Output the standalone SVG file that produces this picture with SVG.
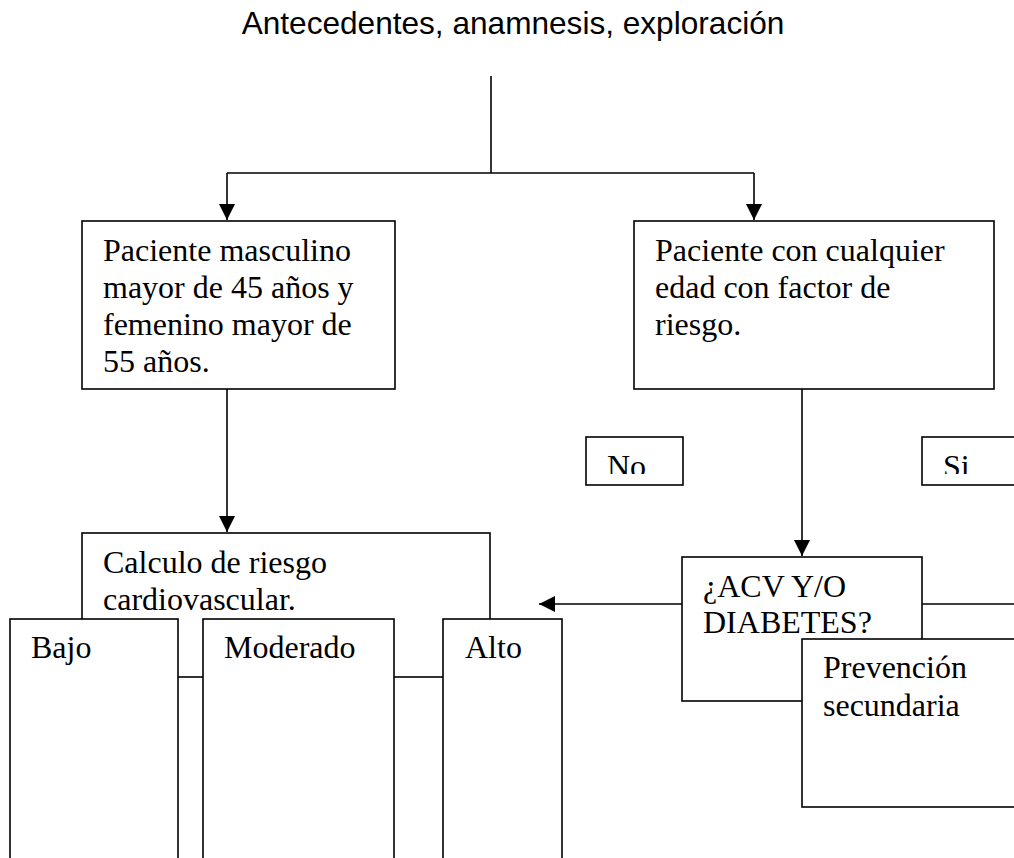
<svg xmlns="http://www.w3.org/2000/svg" width="1014" height="858" viewBox="0 0 1014 858">
  <style>
    .box { fill: #ffffff; stroke: #000000; stroke-width: 1.6; }
    .line { fill: none; stroke: #000000; stroke-width: 1.6; }
    .t { font-family: "Liberation Serif", "Times New Roman", serif; font-size: 32px; fill: #000000; }
    .title { font-family: "Liberation Sans", Arial, sans-serif; font-size: 31.6px; fill: #000000; }
  </style>
  <defs>
    <marker id="arr" markerUnits="userSpaceOnUse" markerWidth="16" markerHeight="18" refX="16" refY="8" orient="auto">
      <path d="M0,0 L16,8 L0,16 Z" fill="#000000"/>
    </marker>
    <clipPath id="clipNo"><rect x="586" y="437" width="97" height="37"/></clipPath>
    <clipPath id="clipSi"><rect x="922" y="437" width="100" height="37"/></clipPath>
  </defs>
  <rect x="0" y="0" width="1014" height="858" fill="#ffffff"/>

  <g id="title">
    <text class="title" x="513" y="34" text-anchor="middle">Antecedentes, anamnesis, exploración</text>
  </g>

  <g id="connectors">
    <path class="line" d="M491,76 L491,173"/>
    <path class="line" d="M227,173 L754,173"/>
    <path class="line" d="M227,173 L227,220" marker-end="url(#arr)"/>
    <path class="line" d="M754,173 L754,220" marker-end="url(#arr)"/>
    <path class="line" d="M227,389 L227,532" marker-end="url(#arr)"/>
    <path class="line" d="M802,389 L802,556" marker-end="url(#arr)"/>
    <path class="line" d="M682,604 L539,604" marker-end="url(#arr)"/>
    <path class="line" d="M922,604 L1014,604"/>
  </g>

  <g id="node-masculino">
    <rect class="box" x="82" y="221" width="313" height="168"/>
    <text class="t" x="103" y="261">Paciente masculino</text>
    <text class="t" x="103" y="298">mayor de 45 años y</text>
    <text class="t" x="103" y="335">femenino mayor de</text>
    <text class="t" x="103" y="372">55 años.</text>
  </g>

  <g id="node-cualquier">
    <rect class="box" x="634" y="221" width="360" height="168"/>
    <text class="t" x="655" y="261">Paciente con cualquier</text>
    <text class="t" x="655" y="298">edad con factor de</text>
    <text class="t" x="655" y="335">riesgo.</text>
  </g>

  <g id="node-no">
    <rect class="box" x="586" y="437" width="97" height="48"/>
    <text class="t" x="607" y="477" clip-path="url(#clipNo)">No</text>
  </g>

  <g id="node-si">
    <rect class="box" x="922" y="437" width="110" height="48"/>
    <text class="t" x="943" y="477" clip-path="url(#clipSi)">Si</text>
  </g>

  <g id="node-calculo">
    <rect class="box" x="82" y="533" width="408" height="144"/>
    <text class="t" x="103" y="573">Calculo de riesgo</text>
    <text class="t" x="103" y="610">cardiovascular.</text>
  </g>

  <g id="node-bajo">
    <rect class="box" x="10" y="619" width="168" height="260"/>
    <text class="t" x="31" y="658">Bajo</text>
  </g>

  <g id="node-moderado">
    <rect class="box" x="203" y="619" width="191" height="260"/>
    <text class="t" x="224" y="658">Moderado</text>
  </g>

  <g id="node-alto">
    <rect class="box" x="443" y="619" width="119" height="260"/>
    <text class="t" x="465" y="658">Alto</text>
  </g>

  <g id="node-acv">
    <rect class="box" x="682" y="557" width="240" height="144"/>
    <text class="t" x="703" y="597">¿ACV Y/O</text>
    <text class="t" x="703" y="633">DIABETES?</text>
  </g>

  <g id="node-prevencion">
    <rect class="box" x="802" y="639" width="230" height="168"/>
    <text class="t" x="823" y="678">Prevención</text>
    <text class="t" x="823" y="716">secundaria</text>
  </g>
</svg>
